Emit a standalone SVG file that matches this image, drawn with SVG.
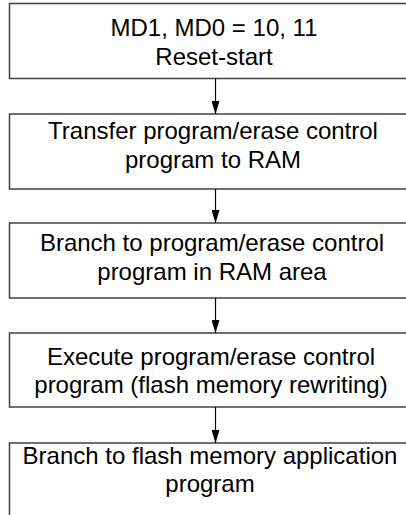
<svg xmlns="http://www.w3.org/2000/svg" width="406" height="515" viewBox="0 0 406 515">
<defs>
<style>
.box{fill:#fff;stroke:#404040;stroke-width:1.5}
.t{font-family:"Liberation Sans",Arial,sans-serif;font-size:24px;fill:#000;text-anchor:middle}
.c{stroke:#000;stroke-width:1.2;fill:none}
</style>
<marker id="ah" markerWidth="13" markerHeight="8" refX="8" refY="4" orient="auto" markerUnits="userSpaceOnUse" viewBox="0 0 8 8" preserveAspectRatio="none">
<path d="M0,0 L8,4 L0,8 Z" fill="#000"/>
</marker>
</defs>
<rect width="406" height="515" fill="#fff"/>
<g id="n1"><rect class="box" x="9.5" y="3.5" width="410" height="75"/>
<text class="t" x="214" y="36">MD1, MD0 = 10, 11</text>
<text class="t" x="214" y="65">Reset-start</text></g>
<g id="n2"><rect class="box" x="9.5" y="114" width="410" height="75"/>
<text class="t" x="213" y="139">Transfer program/erase control</text>
<text class="t" x="213" y="168">program to RAM</text></g>
<g id="n3"><rect class="box" x="9.5" y="223" width="410" height="75"/>
<text class="t" x="212" y="251">Branch to program/erase control</text>
<text class="t" x="212" y="280">program in RAM area</text></g>
<g id="n4"><rect class="box" x="9.5" y="333" width="410" height="74"/>
<text class="t" x="211" y="365">Execute program/erase control</text>
<text class="t" x="211" y="393">program (flash memory rewriting)</text></g>
<g id="n5"><rect class="box" x="9.5" y="443" width="410" height="80"/>
<text class="t" x="210" y="464">Branch to flash memory application</text>
<text class="t" x="210" y="492">program</text></g>
<g id="connectors">
<line class="c" x1="215.5" y1="78.5" x2="215.5" y2="114" marker-end="url(#ah)"/>
<line class="c" x1="215.5" y1="189" x2="215.5" y2="223" marker-end="url(#ah)"/>
<line class="c" x1="215.5" y1="298" x2="215.5" y2="333" marker-end="url(#ah)"/>
<line class="c" x1="215.5" y1="407" x2="215.5" y2="443" marker-end="url(#ah)"/>
</g>
</svg>
